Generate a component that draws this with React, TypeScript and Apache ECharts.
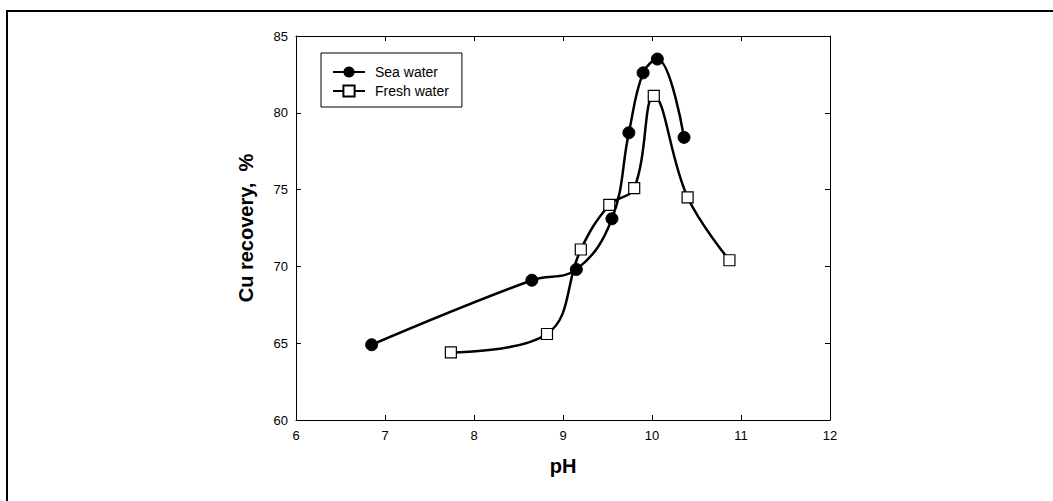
import React, { useEffect, useRef } from "react";
import * as echarts from "echarts";

const seaWater: [number, number][] = [
  [6.85, 64.9], [8.65, 69.1], [9.15, 69.8], [9.55, 73.1],
  [9.74, 78.7], [9.9, 82.6], [10.06, 83.5], [10.36, 78.4],
];
const freshWater: [number, number][] = [
  [7.74, 64.4], [8.82, 65.6], [9.2, 71.1], [9.52, 74.0],
  [9.8, 75.1], [10.02, 81.1], [10.4, 74.5], [10.87, 70.4],
];
const seriesNames = ["Sea water", "Fresh water"];
const xTitle = "pH";
const yTitle = "Cu recovery,  %";

const FONT = "'Liberation Sans', Arial, Helvetica, sans-serif";

export default function App() {
  const ref = useRef<HTMLDivElement>(null);
  useEffect(() => {
    if (!ref.current) return;
    const chart = echarts.init(ref.current, undefined, { renderer: "svg" });
    const axisLine = { show: true, lineStyle: { color: "#000", width: 1 } };
    const tick = { show: true, inside: true, length: 5, lineStyle: { color: "#000" } };
    chart.setOption({
      animation: false,
      backgroundColor: "#fff",
      textStyle: { fontFamily: FONT },
      grid: { left: 296, right: 223, top: 36, bottom: 81, containLabel: false },
      legend: {
        orient: "vertical",
        left: 321,
        top: 53,
        data: seriesNames,
        borderColor: "#000",
        borderWidth: 1,
        padding: [12, 13, 9, 11],
        itemGap: 5,
        itemWidth: 32,
        itemHeight: 14,
        textStyle: { fontSize: 14, color: "#000", fontFamily: FONT, padding: [0, 0, 0, 5] },
      },
      xAxis: [
        {
          type: "value", min: 6, max: 12, interval: 1, position: "bottom",
          name: xTitle, nameLocation: "middle", nameGap: 36,
          nameTextStyle: { fontSize: 20, fontWeight: "bold", color: "#000", fontFamily: FONT },
          axisLine, axisTick: tick, splitLine: { show: false },
          axisLabel: { color: "#000", fontSize: 13, margin: 9, fontFamily: FONT },
        },
        {
          type: "value", min: 6, max: 12, interval: 1, position: "top",
          axisLine, axisTick: tick, splitLine: { show: false }, axisLabel: { show: false },
        },
      ],
      yAxis: [
        {
          type: "value", min: 60, max: 85, interval: 5, position: "left",
          name: yTitle, nameLocation: "middle", nameGap: 40,
          nameTextStyle: { fontSize: 20, fontWeight: "bold", color: "#000", fontFamily: FONT },
          axisLine, axisTick: tick, splitLine: { show: false },
          axisLabel: { color: "#000", fontSize: 13, margin: 8, fontFamily: FONT },
        },
        {
          type: "value", min: 60, max: 85, interval: 5, position: "right",
          axisLine, axisTick: tick, splitLine: { show: false }, axisLabel: { show: false },
        },
      ],
      graphic: [
        {
          type: "rect",
          shape: { x: 7, y: 11, width: 1100, height: 600 },
          style: { fill: "none", stroke: "#000", lineWidth: 2 },
          silent: true,
        },
      ],
      series: [
        {
          name: seriesNames[0], type: "line", data: seaWater, smooth: 0.4,
          symbol: "circle", symbolSize: 12,
          lineStyle: { color: "#000", width: 2.5 },
          itemStyle: { color: "#000", borderColor: "#000" },
          z: 3,
        },
        {
          name: seriesNames[1], type: "line", data: freshWater, smooth: 0.4,
          symbol: "rect", symbolSize: 11,
          lineStyle: { color: "#000", width: 2.5 },
          itemStyle: { color: "#fff", borderColor: "#000", borderWidth: 1.2 },
          z: 2,
        },
      ],
    });
    return () => chart.dispose();
  }, []);
  return (
    <div
      ref={ref}
      style={{ position: "fixed", left: 0, top: 0, width: 1053, height: 501 }}
    />
  );
}
